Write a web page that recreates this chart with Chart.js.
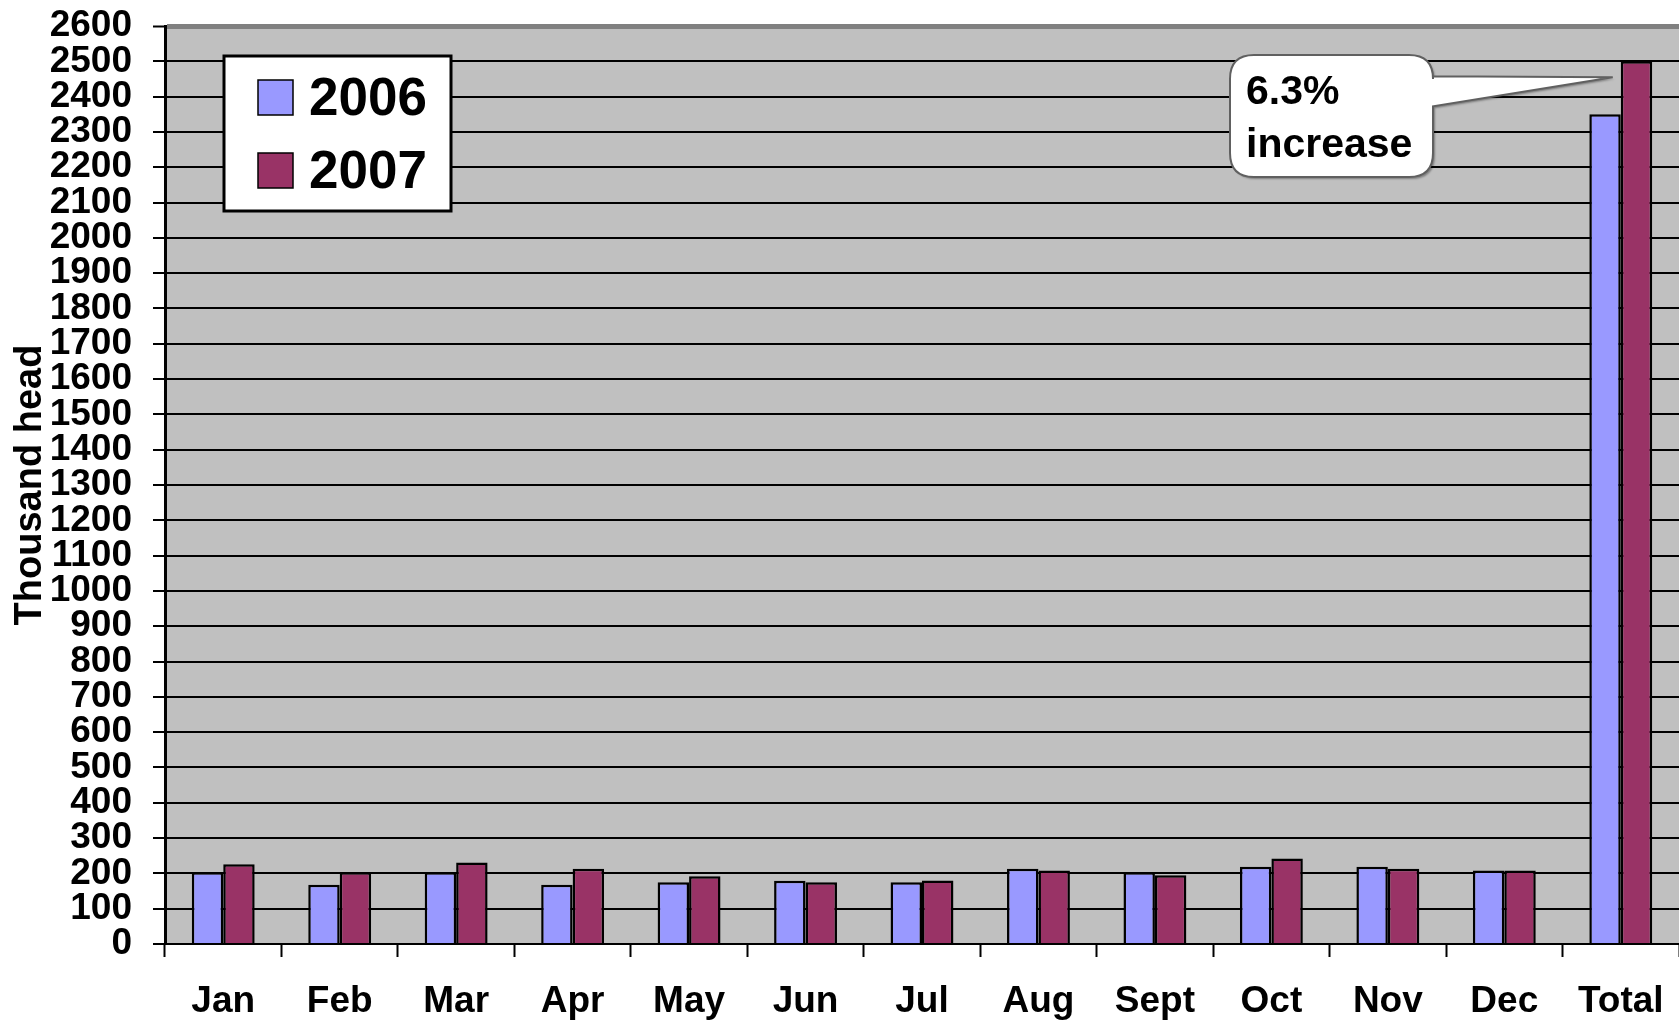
<!DOCTYPE html>
<html>
<head>
<meta charset="utf-8">
<title>Thousand head 2006 / 2007</title>
<script src="https://cdn.jsdelivr.net/npm/chart.js@4.4.1/dist/chart.umd.min.js"></script>
<style>
  html, body { margin: 0; padding: 0; background: #fff; }
  #wrap { width: 1679px; height: 1022px; }
</style>
</head>
<body>
<div id="wrap"><canvas id="headChart" width="1679" height="1022"></canvas></div>
<script>
// data
var categories = ['Jan', 'Feb', 'Mar', 'Apr', 'May', 'Jun', 'Jul', 'Aug', 'Sept', 'Oct', 'Nov', 'Dec', 'Total'];
var seriesNames = ['2006', '2007'];
var values2006 = [203, 168, 203, 168, 175, 179, 175, 213, 203, 219, 219, 208, 2350];
var values2007 = [226, 203, 231, 213, 192, 175, 180, 208, 195, 242, 213, 208, 2500];
var yMin = 0, yMax = 2600, yStep = 100;
var yTitle = 'Thousand head';
var calloutText = ['6.3%', 'increase'];

var FONT = '"Liberation Sans", Arial, Helvetica, sans-serif';
Chart.defaults.font.family = FONT;
Chart.defaults.color = '#000';

// grey plot area
var plotBg = {
  id: 'plotBg',
  beforeDraw: function (chart) {
    var a = chart.chartArea, ctx = chart.ctx;
    ctx.save();
    ctx.fillStyle = '#c0c0c0';
    ctx.fillRect(a.left, a.top, a.right - a.left, a.bottom - a.top);
    ctx.restore();
  }
};

// boxed legend inside the plot, top left
var boxLegend = {
  id: 'boxLegend',
  afterDraw: function (chart) {
    var ctx = chart.ctx, a = chart.chartArea;
    var x = a.left + 59, y = a.top + 30, w = 227, h = 155;
    ctx.save();
    ctx.fillStyle = '#fff';
    ctx.fillRect(x, y, w, h);
    ctx.strokeStyle = '#000';
    ctx.lineWidth = 3;
    ctx.strokeRect(x, y, w, h);
    ctx.font = 'bold 53px ' + FONT;
    ctx.textBaseline = 'alphabetic';
    chart.data.datasets.forEach(function (ds, i) {
      var sy = y + 24 + i * 73;
      ctx.fillStyle = ds.backgroundColor;
      ctx.fillRect(x + 34, sy, 35, 35);
      ctx.lineWidth = 1.5;
      ctx.strokeStyle = '#000';
      ctx.strokeRect(x + 34, sy, 35, 35);
      ctx.fillStyle = '#000';
      ctx.fillText(ds.label, x + 85, sy + 35);
    });
    ctx.restore();
  }
};

// speech bubble pointing at the Total 2007 bar
var callout = {
  id: 'callout',
  afterDraw: function (chart) {
    var ctx = chart.ctx, a = chart.chartArea;
    var bar = chart.getDatasetMeta(1).data[categories.length - 1];
    var tipX = bar.x - bar.width / 2 - 8, tipY = bar.y + 16;
    var l = a.right - 449, t = a.top + 29, r = a.right - 246, b = a.top + 151, rad = 24;
    var p1 = tipY - 1, p2 = tipY + 29;
    ctx.save();
    ctx.beginPath();
    ctx.moveTo(l + rad, t);
    ctx.lineTo(r - rad, t);
    ctx.quadraticCurveTo(r, t, r, t + rad);
    ctx.lineTo(r, p1);
    ctx.lineTo(tipX, tipY);
    ctx.lineTo(r, p2);
    ctx.lineTo(r, b - rad);
    ctx.quadraticCurveTo(r, b, r - rad, b);
    ctx.lineTo(l + rad, b);
    ctx.quadraticCurveTo(l, b, l, b - rad);
    ctx.lineTo(l, t + rad);
    ctx.quadraticCurveTo(l, t, l + rad, t);
    ctx.closePath();
    ctx.shadowColor = 'rgba(0,0,0,0.35)';
    ctx.shadowOffsetX = 2;
    ctx.shadowOffsetY = 2;
    ctx.shadowBlur = 2;
    ctx.fillStyle = '#fff';
    ctx.fill();
    ctx.shadowColor = 'transparent';
    ctx.strokeStyle = '#606060';
    ctx.lineWidth = 2;
    ctx.stroke();
    ctx.fillStyle = '#000';
    ctx.font = 'bold 41px ' + FONT;
    ctx.textBaseline = 'alphabetic';
    ctx.fillText(calloutText[0], l + 16, t + 49);
    ctx.fillText(calloutText[1], l + 16, t + 102);
    ctx.restore();
  }
};

function noPad(scale) {
  scale.paddingTop = 0;
  scale.paddingBottom = 0;
  scale.paddingLeft = 0;
  scale.paddingRight = 0;
}

var ctx = document.getElementById('headChart').getContext('2d');
var headChart = new Chart(ctx, {
  type: 'bar',
  data: {
    labels: categories,
    datasets: [{
      label: seriesNames[0],
      data: values2006,
      backgroundColor: '#9999ff',
      borderColor: '#000',
      borderWidth: 2.5,
      borderSkipped: 'bottom',
      categoryPercentage: 0.54,
      barPercentage: 1.0
    }, {
      label: seriesNames[1],
      data: values2007,
      backgroundColor: '#993366',
      borderColor: '#000',
      borderWidth: 2.5,
      borderSkipped: 'bottom',
      categoryPercentage: 0.54,
      barPercentage: 1.0
    }]
  },
  options: {
    responsive: false,
    animation: false,
    layout: { padding: { top: 26, left: 0, right: 0, bottom: 0 } },
    plugins: {
      legend: { display: false },
      tooltip: { enabled: false },
      title: { display: false }
    },
    scales: {
      x: {
        offset: true,
        grid: {
          offset: true,
          drawOnChartArea: false,
          drawTicks: true,
          tickLength: 13,
          tickColor: '#000',
          tickWidth: 2
        },
        border: { color: '#000', width: 2 },
        ticks: {
          autoSkip: false,
          maxRotation: 0,
          minRotation: 0,
          padding: 26,
          color: '#000',
          font: { size: 37, weight: 'bold', lineHeight: 1 }
        },
        afterFit: function (scale) { scale.height = 78; noPad(scale); }
      },
      y: {
        min: yMin,
        max: yMax,
        grid: {
          color: function (c) { return c.tick && c.tick.value === yMax ? '#808080' : '#000'; },
          lineWidth: function (c) { return c.tick && c.tick.value === yMax ? 5 : 2; },
          drawTicks: true,
          tickLength: 12,
          tickColor: '#000',
          tickWidth: 2
        },
        border: { color: '#000', width: 3 },
        ticks: {
          stepSize: yStep,
          autoSkip: false,
          padding: 21,
          color: '#000',
          font: { size: 37, weight: 'bold', lineHeight: 1 },
          callback: function (v) { return String(v); }
        },
        title: {
          display: true,
          text: yTitle,
          color: '#000',
          font: { size: 38, weight: 'bold', lineHeight: 1.2 },
          padding: { top: 8, bottom: 0 }
        },
        afterFit: function (scale) { scale.width = 165; noPad(scale); }
      }
    }
  },
  plugins: [plotBg, boxLegend, callout]
});
</script>
</body>
</html>
